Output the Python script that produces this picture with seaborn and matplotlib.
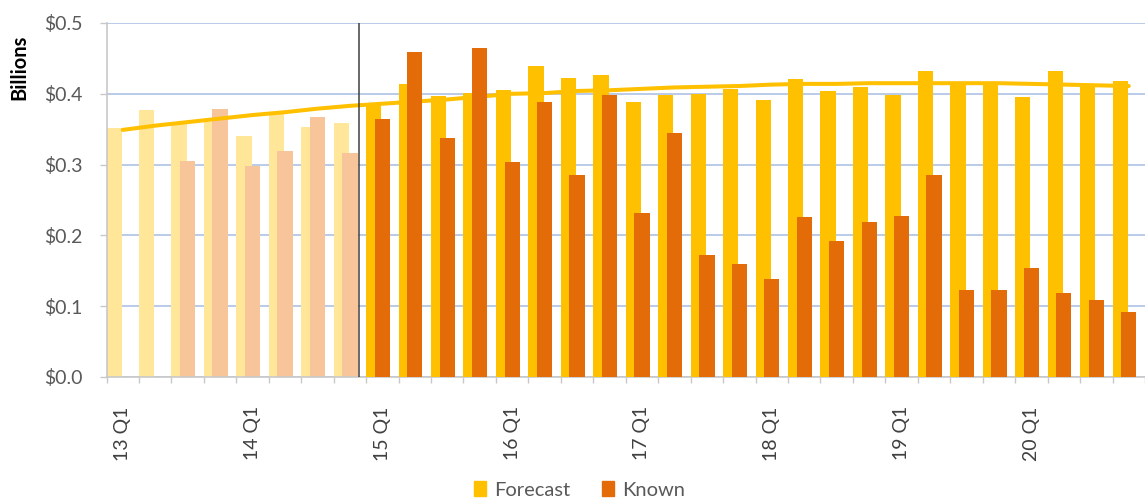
import numpy as np
import pandas as pd
import seaborn as sns
import matplotlib.pyplot as plt
from matplotlib.patches import Patch

# quarterly values, $ billions
quarters = [f"{y} Q{q}" for y in range(13, 21) for q in range(1, 5)]
forecast = [0.352, 0.377, 0.357, 0.360, 0.340, 0.372, 0.353, 0.359,
            0.386, 0.414, 0.397, 0.401, 0.406, 0.439, 0.422, 0.427,
            0.389, 0.399, 0.400, 0.407, 0.391, 0.421, 0.404, 0.409,
            0.398, 0.432, 0.417, 0.416, 0.396, 0.432, 0.412, 0.418]
known = [np.nan, np.nan, 0.305, 0.378, 0.298, 0.319, 0.367, 0.317,
         0.365, 0.459, 0.337, 0.464, 0.304, 0.389, 0.286, 0.399,
         0.232, 0.345, 0.172, 0.159, 0.138, 0.226, 0.192, 0.219,
         0.227, 0.286, 0.123, 0.123, 0.154, 0.118, 0.109, 0.092]
trend = [0.349, 0.355, 0.360, 0.365, 0.370, 0.374, 0.379, 0.383,
         0.386, 0.389, 0.392, 0.396, 0.400, 0.401, 0.404, 0.405,
         0.407, 0.409, 0.410, 0.411, 0.413, 0.414, 0.414, 0.415,
         0.415, 0.415, 0.415, 0.415, 0.414, 0.413, 0.412, 0.411]
n_past = 8  # 2013-2014 drawn faded
yticks = [0.0, 0.1, 0.2, 0.3, 0.4, 0.5]
ytick_labels = [r"\$0.0", r"\$0.1", r"\$0.2", r"\$0.3", r"\$0.4", r"\$0.5"]

df = pd.DataFrame({"quarter": quarters, "Forecast": forecast,
                   "Known": known, "Trend": trend})
df["idx"] = np.arange(len(df))
df["period"] = np.where(df["idx"] < n_past, "past", "now")
df["f_pos"] = df["idx"] - 0.265

fc_pal = {"past": "#FFE699", "now": "#FFC000"}
kn_pal = {"past": "#F8C49A", "now": "#E36C09"}

sns.set_theme(style="white")
plt.rcParams["font.family"] = ["Lato", "DejaVu Sans"]

fig = plt.figure(figsize=(11.45, 5.03), dpi=100)
ax = fig.add_axes([106.5 / 1145, 1 - 377 / 503, 1 - 106.5 / 1145, 354 / 503])

sns.lineplot(data=df, x="idx", y="Trend", color="#FFC000", lw=2.9, ax=ax,
             zorder=2, legend=False)
sns.barplot(data=df, x="f_pos", y="Forecast", hue="period", palette=fc_pal,
            native_scale=True, width=0.47, dodge=False, saturation=1,
            legend=False, ax=ax)
sns.barplot(data=df.dropna(subset=["Known"]), x="idx", y="Known", hue="period",
            palette=kn_pal, native_scale=True, width=0.47, dodge=False,
            saturation=1, legend=False, ax=ax)
for p in ax.patches:
    p.set_linewidth(0)
    p.set_zorder(1.5 if p.get_x() < n_past - 0.6 else 3)

ax.axvline(7.27, color="#404040", lw=1.1, zorder=4)

ax.set_xlim(-0.5, 31.2)
ax.set_ylim(0, 0.5)
ax.set_yticks(yticks)
ax.set_yticklabels(ytick_labels)
ax.set_xticks(np.arange(0, 32, 4))
ax.set_xticklabels(quarters[::4], rotation=90)
ax.set_xticks(np.arange(-0.5, 31.6, 1), minor=True)
ax.set_xlabel("")
ax.set_ylabel("")

ax.yaxis.grid(True, color="#B4C7E7", lw=1.3)
ax.set_axisbelow(True)
sns.despine(ax=ax, top=True, right=True)
for s in ("left", "bottom"):
    ax.spines[s].set_color("#C8C8C8")
    ax.spines[s].set_linewidth(1.2)

ax.tick_params(axis="y", left=True, length=5, width=1, color="#C8C8C8",
               pad=12, labelsize=14, labelcolor="#595959")
ax.tick_params(axis="x", which="major", bottom=True, length=0, pad=21,
               labelsize=14, labelcolor="#404040")
ax.tick_params(axis="x", which="minor", bottom=True, length=4, width=1,
               color="#C8C8C8")

fig.text(0.0166, 1 - 67 / 503, "Billions", rotation=90, ha="center",
         va="center", fontsize=14.5, fontweight="bold", color="#000000")

handles = [Patch(color="#FFC000", label="Forecast"),
           Patch(color="#E36C09", label="Known")]
fig.legend(handles=handles, loc="center", bbox_to_anchor=(0.506, 1 - 490 / 503),
           ncol=2, frameon=False, fontsize=14.5, handlelength=0.6,
           handleheight=0.7, handletextpad=0.4, columnspacing=1.6,
           labelcolor="#595959")

fig.savefig("out.png", dpi=100)
